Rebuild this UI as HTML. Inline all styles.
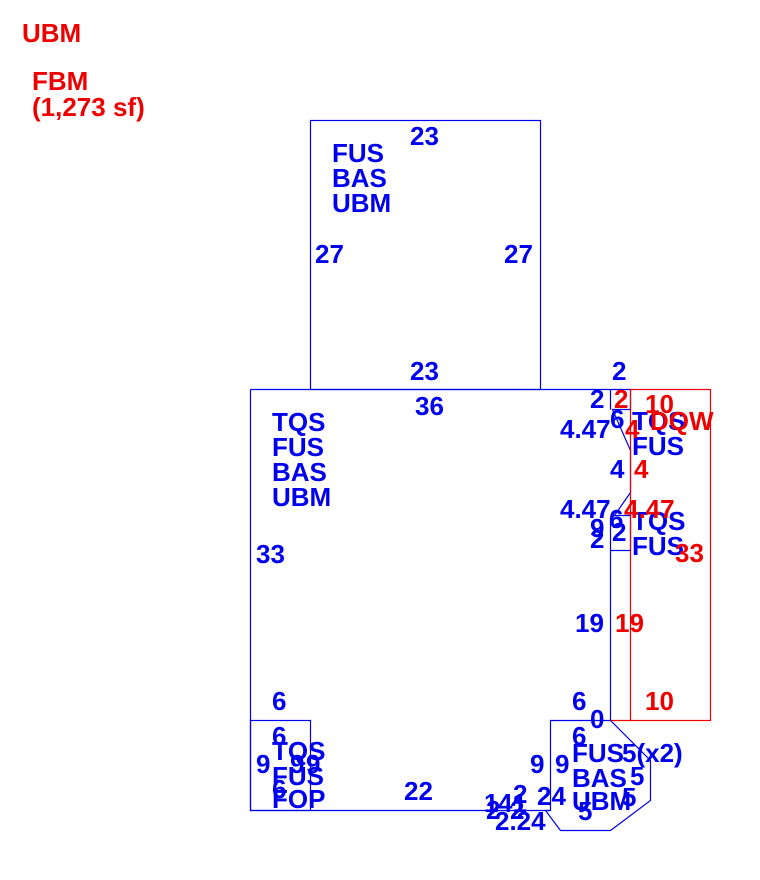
<!DOCTYPE html>
<html><head><meta charset="utf-8"><style>
html,body{margin:0;padding:0;background:#fff;width:760px;height:880px;overflow:hidden}
svg text{font-family:"Liberation Sans",Arial,sans-serif;font-weight:bold;font-size:26px}
.b{fill:#0000ee}.r{fill:#ee0000}
</style></head><body>
<svg width="760" height="880" viewBox="0 0 760 880" xmlns="http://www.w3.org/2000/svg">
<g fill="none" stroke="#0000ee" stroke-width="1.2">
<rect x="310.5" y="120.5" width="230" height="269"/>
<polyline points="250.5,389.5 610.5,389.5"/>
<polyline points="250.5,389.5 250.5,810.5 550.5,810.5"/>
<rect x="250.5" y="720.5" width="60" height="90"/>
<polyline points="610.5,389.5 630.5,389.5 630.5,409.5 612.5,409.5 630.5,450.5 630.5,492.5 614.5,515.5 630.5,515.5 630.5,550.5 610.5,550.5"/>
<line x1="610.5" y1="389.5" x2="610.5" y2="409.5"/>
<polyline points="614.5,515.5 610.5,520 610.5,720.5"/>
<polygon points="550.5,720.5 610.5,720.5 650.5,760.5 650.5,800.5 610.5,830.5 560.5,830.5 545.5,810.5 550.5,810.5"/>
</g>
<g fill="none" stroke="#ee0000" stroke-width="1.2">
<rect x="630.5" y="389.5" width="80" height="331"/>
<line x1="610.5" y1="720.5" x2="630.5" y2="720.5"/>
</g>
<text class="r" x="22" y="42">UBM</text>
<text class="r" x="32" y="90">FBM</text>
<text class="r" x="32" y="116">(1,273 sf)</text>

<g class="b">
<text x="410" y="145">23</text>
<text x="332" y="162">FUS</text><text x="332" y="187">BAS</text><text x="332" y="212">UBM</text>
<text x="315" y="263">27</text><text x="504" y="263">27</text>
<text x="410" y="380">23</text>
<text x="415" y="415">36</text>
<text x="272" y="431">TQS</text><text x="272" y="456">FUS</text><text x="272" y="481">BAS</text><text x="272" y="506">UBM</text>
<text x="256" y="563">33</text>
<text x="612" y="380">2</text>
<text x="590" y="408">2</text>
<text x="560" y="438">4.47</text>
<text x="610" y="428">6</text>
<text x="610" y="478">4</text>
<text x="560" y="518">4.47</text>
<text x="609" y="528">6</text>
<text x="590" y="537">9</text>
<text x="612" y="541">2</text>
<text x="590" y="548">2</text>
<text x="632" y="430">TQS</text><text x="632" y="455">FUS</text>
<text x="632" y="530">TQS</text><text x="632" y="555">FUS</text>
<text x="575" y="632">19</text>
<text x="272" y="710">6</text>
<text x="572" y="710">6</text>
<text x="590" y="728">0</text>
<text x="272" y="745">6</text>
<text x="256" y="773">9</text>
<text x="272" y="760">TQS</text><text x="272" y="785">FUS</text><text x="272" y="808">FOP</text>
<text x="272" y="798">6</text>
<text x="290" y="773">9</text><text x="306" y="773">9</text>
<text x="404" y="800">22</text>
<text x="572" y="745">6</text>
<text x="530" y="773">9</text><text x="555" y="773">9</text>
<text x="572" y="762">FUS</text><text x="572" y="787">BAS</text><text x="572" y="810">UBM</text>
<text x="622" y="762">5(x2)</text>
<text x="630" y="785">5</text>
<text x="622" y="806">5</text>
<text x="578" y="820">5</text>
<text x="513" y="803">2</text><text x="537" y="805">24</text>
<text x="484" y="812">1</text><text x="498" y="812">41</text>
<text x="486" y="819">2</text><text x="510" y="819">2</text>
<text x="495" y="830">2.24</text>
</g>
<g class="r">
<text x="614" y="408">2</text>
<text x="645" y="413">10</text>
<text x="625" y="438">4</text><text x="650" y="430">DQW</text>
<text x="634" y="478">4</text>
<text x="624" y="518">4.47</text>
<text x="675" y="562">33</text>
<text x="615" y="632">19</text>
<text x="645" y="710">10</text>
</g>
</svg>
</body></html>
